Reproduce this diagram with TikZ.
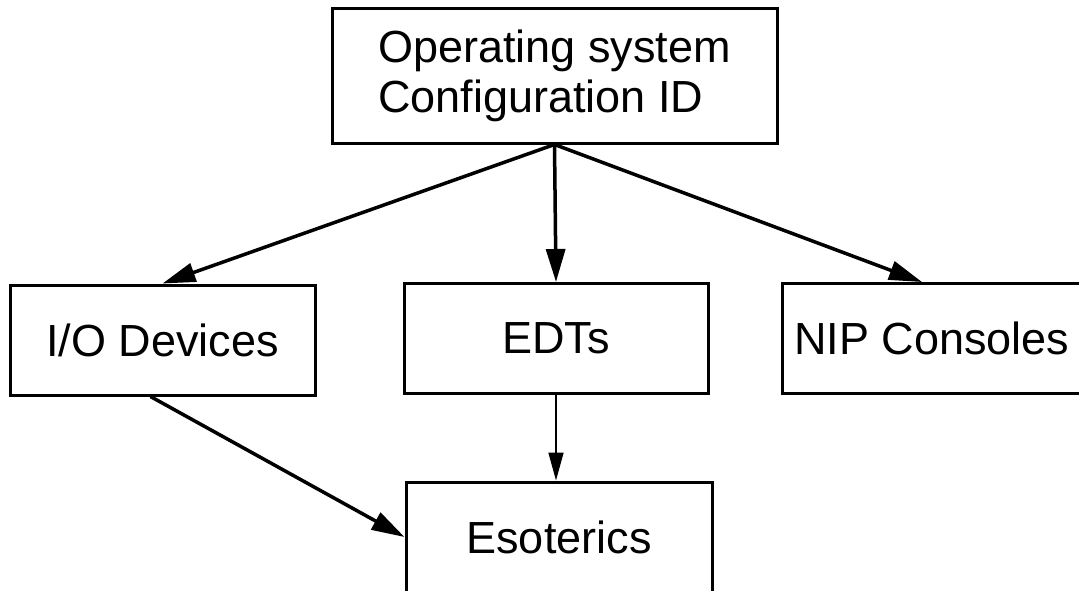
\documentclass[tikz,border=0pt]{standalone}
\usepackage{fontspec}
\setmainfont{Liberation Sans}
\usetikzlibrary{arrows.meta}

\begin{document}
\begin{tikzpicture}[
  x=1pt,y=-1pt,
  font=\fontsize{45}{50}\selectfont,
  box/.style={rectangle,draw,line width=3pt,align=left,inner sep=0pt,minimum width=305pt,minimum height=110pt},
  arr/.style={-{Triangle[length=33pt,width=19pt]},line width=3.5pt},
  thinarr/.style={-{Triangle[length=28pt,width=15pt]},line width=1.7pt}
]
\useasboundingbox (0,0) rectangle (1079,590);
\node[box,minimum width=445pt,minimum height=135pt] (osid) at (554.5,75.5) {Operating system\\Configuration ID};
\node[box] (iodev) at (162.5,340) {I/O Devices};
\node[box,minimum width=304pt] (edts) at (556,338.5) {EDTs};
\node[box,minimum width=300pt] (nip) at (932,338.5) {NIP Consoles};
\node[box,minimum width=306pt] (esot) at (559,537) {Esoterics};

\draw[arr] (osid.south) -- (iodev.north);
\draw[arr] (osid.south) -- (edts.north);
\draw[arr] (osid.south) -- ([xshift=-10pt]nip.north);
\draw[thinarr] (edts.south) -- (edts.south |- esot.north);
\draw[arr] ([xshift=-12pt]iodev.south) -- (esot.west);
\end{tikzpicture}
\end{document}
